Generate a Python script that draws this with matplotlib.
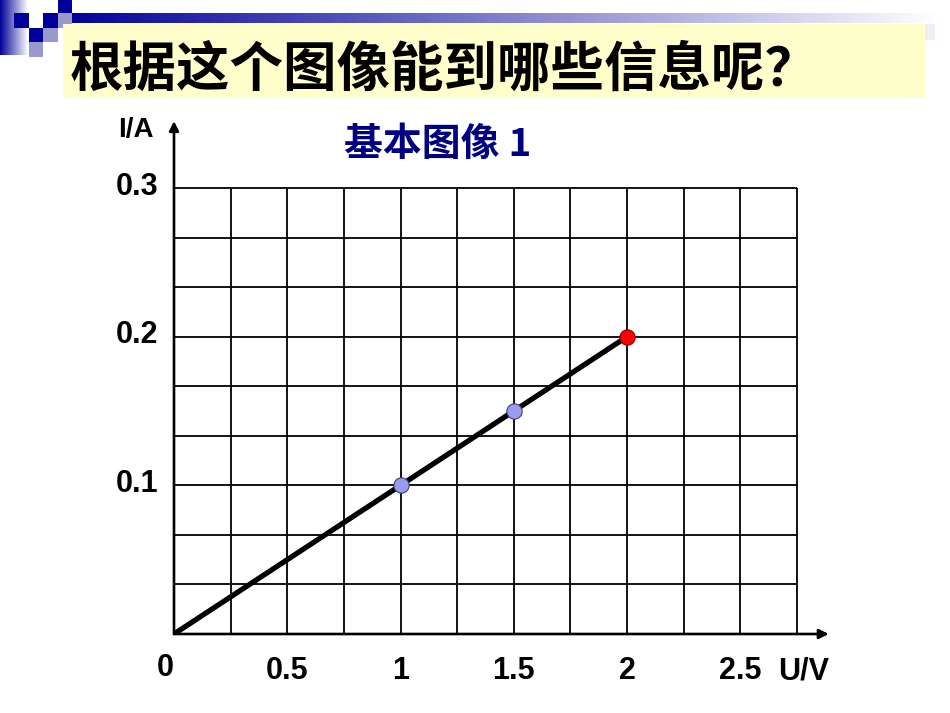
import matplotlib
matplotlib.use("Agg")
import matplotlib.pyplot as plt
from matplotlib.colors import LinearSegmentedColormap
import numpy as np

plt.rcParams['font.family'] = ['Liberation Sans', 'DejaVu Sans']

# data
voltage = [1.0, 1.5, 2.0]          # U / V
current = [0.1, 0.15, 0.2]         # I / A
point_colors = ['#9a9cf0', '#9a9cf0', '#ff0000']
line_u = [0.0, 2.0]
line_i = [0.0, 0.2]

x_ticks = [0.5, 1, 1.5, 2, 2.5]
x_ticklabels = ['0.5', '1', '1.5', '2', '2.5']
y_ticks = [0.1, 0.2, 0.3]
y_ticklabels = ['0.1', '0.2', '0.3']

grid_u = [0.25 * k for k in range(1, 12)]
grid_i = [k / 30 for k in range(1, 10)]

title = '根据这个图像能到哪些信息呢？'
subtitle = '基本图像 1'

W, H = 950, 713
fig = plt.figure(figsize=(W / 100, H / 100), dpi=100)

# ---- slide decoration, pixel coordinates
bg = fig.add_axes([0, 0, 1, 1])
bg.set_xlim(0, W)
bg.set_ylim(H, 0)
bg.set_axis_off()

grad = np.linspace(0, 1, 256).reshape(1, -1)
blue_fade = LinearSegmentedColormap.from_list('bf', ['#000099', '#ffffff'])
bg.imshow(grad, cmap=blue_fade, extent=[0, 28, 55, 0], aspect='auto')
bg.imshow(grad, cmap=blue_fade, extent=[63, 940, 23, 13], aspect='auto')

s = 14.5
squares = [(14, 13, '#000099'), (28.5, 27.5, '#000099'), (43, 27.5, '#9999cc'),
           (28.5, 42, '#9999cc'), (43, 13, '#000099'), (57.5, 13, '#9999cc'),
           (57.5, -1.5, '#000099')]
for sx, sy, c in squares:
    bg.add_patch(plt.Rectangle((sx, sy), s, s, color=c, lw=0))

bg.add_patch(plt.Rectangle((925, 24), 10, 16, color='#eeeef6', lw=0))
bg.add_patch(plt.Rectangle((63, 24), 862, 74, color='#ffffcc', lw=0))
bg.text(70, 70, title, ha='left', va='center', fontsize=38.5, fontweight='bold',
        family=['Noto Sans CJK SC', 'DejaVu Sans'], color='black')

# ---- the chart, data coordinates
px_per_u = (797 - 174) / 2.75
px_per_i = (634 - 188) / 0.3
xmax, ymax = 2.9, 0.35
ax = fig.add_axes([174 / W, (H - 634) / H, xmax * px_per_u / W, ymax * px_per_i / H])
ax.set_xlim(0, xmax)
ax.set_ylim(0, ymax)
ax.set_axis_off()

ax.vlines(grid_u, 0, 0.3, color='black', lw=1.3)
ax.hlines(grid_i, 0, 2.75, color='black', lw=1.3)

for tip in [(2.89, 0), (0, 0.345)]:
    ax.annotate('', xy=tip, xytext=(0, 0), annotation_clip=False,
                arrowprops=dict(arrowstyle='-|>', color='black', lw=1.9,
                                mutation_scale=14, shrinkA=0, shrinkB=0))

ax.plot(line_u, line_i, color='black', lw=3.8, solid_capstyle='butt', zorder=4)
for u, i, c in zip(voltage, current, point_colors):
    edge = '#800000' if c == '#ff0000' else '#40406a'
    ax.plot(u, i, 'o', ms=11, mfc=c, mec=edge, mew=0.8, zorder=5, clip_on=False)

for t, lab in zip(x_ticks, x_ticklabels):
    ax.text(t, -0.025, lab, ha='center', va='center', fontsize=22, fontweight='bold')
ax.text(-0.04, -0.023, '0', ha='center', va='center', fontsize=22, fontweight='bold')
for t, lab in zip(y_ticks, y_ticklabels):
    ax.text(-0.163, t + 0.001, lab, ha='center', va='center', fontsize=22, fontweight='bold')

ax.text(-0.17, 0.339, 'I/A', ha='center', va='center', fontsize=20, fontweight='bold')
ax.text(2.78, -0.025, 'U/V', ha='center', va='center', fontsize=22, fontweight='bold')
ax.text(1.163, 0.329, subtitle, ha='center', va='center', fontsize=28, fontweight='bold',
        color='#000080', family=['Noto Sans CJK SC', 'DejaVu Sans'])

fig.savefig('out.png', dpi=100)
